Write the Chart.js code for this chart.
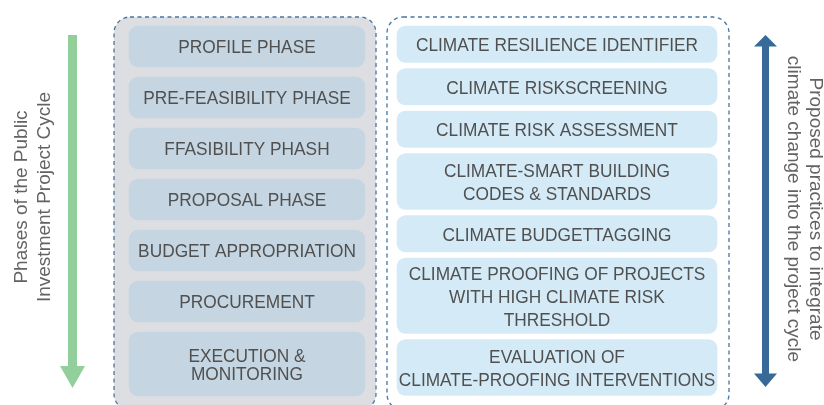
<!DOCTYPE html>
<html>
<head>
<meta charset="utf-8">
<script src="https://cdn.jsdelivr.net/npm/chart.js@4.4.1/dist/chart.umd.min.js"></script>
<style>
  body { margin: 0; background: #fff; }
  canvas { display: block; }
</style>
</head>
<body>
<canvas id="diagram" width="824" height="405"></canvas>
<script>
// categories (box labels), one line per entry after the \n split
const phases = [
  'PROFILE PHASE',
  'PRE-FEASIBILITY PHASE',
  'FFASIBILITY PHASH',
  'PROPOSAL PHASE',
  'BUDGET APPROPRIATION',
  'PROCUREMENT',
  'EXECUTION &\nMONITORING'
];
const practices = [
  'CLIMATE RESILIENCE IDENTIFIER',
  'CLIMATE RISKSCREENING',
  'CLIMATE RISK ASSESSMENT',
  'CLIMATE-SMART BUILDING\nCODES & STANDARDS',
  'CLIMATE BUDGETTAGGING',
  'CLIMATE PROOFING OF PROJECTS\nWITH HIGH CLIMATE RISK\nTHRESHOLD',
  'EVALUATION OF\nCLIMATE-PROOFING INTERVENTIONS'
];
const leftTitle = ['Phases of the Public', 'Investment Project Cycle'];
const rightTitle = ['Proposed practices to integrate', 'climate change into the project cycle'];

// layout, in scale units (the scales are set to the canvas size)
const layout = {
  top: 26,
  left: { center: 247, width: 236, base: 18, perLine: 23, gap: 10, radius: 10, lineHeight: 17.5 },
  right: { center: 557, width: 320, base: 17, perLine: 19.5, gap: 6, radius: 9, lineHeight: 23 }
};

const colors = {
  panel: '#dcdee2',
  leftBox: '#c5d6e2',
  rightBox: '#d4ebf7',
  text: '#505050',
  sideText: '#636363',
  dash: '#4776a3',
  green: '#93cf9b',
  blue: '#376a98'
};

// stack the boxes of one column from the number of text lines in each label
function stackBoxes(labels, col) {
  let y = layout.top;
  return labels.map(label => {
    const lines = label.split('\n').length;
    const h = col.base + col.perLine * lines;
    const point = { x: col.center, y: [y, y + h], label: label };
    y += h + col.gap;
    return point;
  });
}

const boxText = {
  id: 'boxText',
  beforeDatasetsDraw(chart) {
    const { ctx, scales: { x, y } } = chart;
    const panels = [
      { x0: 114, x1: 376, fill: colors.panel },
      { x0: 387, x1: 729, fill: '#ffffff' }
    ];
    ctx.save();
    panels.forEach(p => {
      const px0 = x.getPixelForValue(p.x0), px1 = x.getPixelForValue(p.x1);
      const py0 = y.getPixelForValue(17), py1 = y.getPixelForValue(410);
      ctx.beginPath();
      ctx.roundRect(px0, py0, px1 - px0, py1 - py0, 16);
      ctx.fillStyle = p.fill;
      ctx.fill();
      ctx.setLineDash([4, 3.5]);
      ctx.lineWidth = 1.3;
      ctx.strokeStyle = colors.dash;
      ctx.stroke();
    });
    ctx.setLineDash([]);

    // green arrow, top to bottom
    const gx = x.getPixelForValue(72.5);
    ctx.fillStyle = colors.green;
    ctx.fillRect(gx - 4.5, y.getPixelForValue(35), 9, y.getPixelForValue(367) - y.getPixelForValue(35));
    ctx.beginPath();
    ctx.moveTo(gx - 12.5, y.getPixelForValue(366));
    ctx.lineTo(gx + 12.5, y.getPixelForValue(366));
    ctx.lineTo(gx, y.getPixelForValue(388));
    ctx.closePath();
    ctx.fill();

    // blue double arrow
    const bx = x.getPixelForValue(765.5);
    ctx.fillStyle = colors.blue;
    ctx.fillRect(bx - 3.5, y.getPixelForValue(45), 7, y.getPixelForValue(374) - y.getPixelForValue(45));
    ctx.beginPath();
    ctx.moveTo(bx, y.getPixelForValue(35));
    ctx.lineTo(bx + 11.5, y.getPixelForValue(46.5));
    ctx.lineTo(bx - 11.5, y.getPixelForValue(46.5));
    ctx.closePath();
    ctx.fill();
    ctx.beginPath();
    ctx.moveTo(bx, y.getPixelForValue(387));
    ctx.lineTo(bx + 11.5, y.getPixelForValue(373.5));
    ctx.lineTo(bx - 11.5, y.getPixelForValue(373.5));
    ctx.closePath();
    ctx.fill();

    // side titles
    ctx.font = '19px "Liberation Sans", Arial, sans-serif';
    ctx.fillStyle = colors.sideText;
    ctx.textAlign = 'center';
    ctx.textBaseline = 'alphabetic';
    ctx.save();
    ctx.translate(x.getPixelForValue(27), y.getPixelForValue(197));
    ctx.rotate(-Math.PI / 2);
    leftTitle.forEach((t, i) => ctx.fillText(t, 0, i * 22.5));
    ctx.restore();
    ctx.save();
    ctx.translate(x.getPixelForValue(810), y.getPixelForValue(209));
    ctx.rotate(Math.PI / 2);
    rightTitle.forEach((t, i) => ctx.fillText(t, 0, i * 22.5));
    ctx.restore();
    ctx.restore();
  },
  afterDatasetsDraw(chart) {
    const { ctx } = chart;
    ctx.save();
    ctx.fillStyle = colors.text;
    ctx.font = '19px "Liberation Sans", Arial, sans-serif';
    ctx.textAlign = 'center';
    ctx.textBaseline = 'alphabetic';
    const capHeight = 13.6;
    chart.data.datasets.forEach((ds, di) => {
      const col = di === 0 ? layout.left : layout.right;
      chart.getDatasetMeta(di).data.forEach((bar, i) => {
        const lines = ds.data[i].label.split('\n');
        const cy = (bar.y + bar.base) / 2;
        const first = cy - (lines.length - 1) * col.lineHeight / 2;
        lines.forEach((line, li) => {
          ctx.save();
          ctx.translate(bar.x, first + li * col.lineHeight + capHeight / 2);
          ctx.scale(0.91, 1);
          ctx.fillText(line, 0, 0);
          ctx.restore();
        });
      });
    });
    ctx.restore();
  }
};

new Chart(document.getElementById('diagram'), {
  type: 'bar',
  data: {
    datasets: [
      {
        label: 'Phases',
        data: stackBoxes(phases, layout.left),
        backgroundColor: colors.leftBox,
        barThickness: layout.left.width,
        borderRadius: layout.left.radius,
        borderSkipped: false,
        grouped: false
      },
      {
        label: 'Practices',
        data: stackBoxes(practices, layout.right),
        backgroundColor: colors.rightBox,
        barThickness: layout.right.width,
        borderRadius: layout.right.radius,
        borderSkipped: false,
        grouped: false
      }
    ]
  },
  options: {
    responsive: false,
    animation: false,
    layout: { padding: 0 },
    plugins: { legend: { display: false }, tooltip: { enabled: false } },
    scales: {
      x: { type: 'linear', min: 0, max: 824, offset: false, display: false },
      y: { type: 'linear', min: 0, max: 405, reverse: true, display: false }
    }
  },
  plugins: [boxText]
});
</script>
</body>
</html>
